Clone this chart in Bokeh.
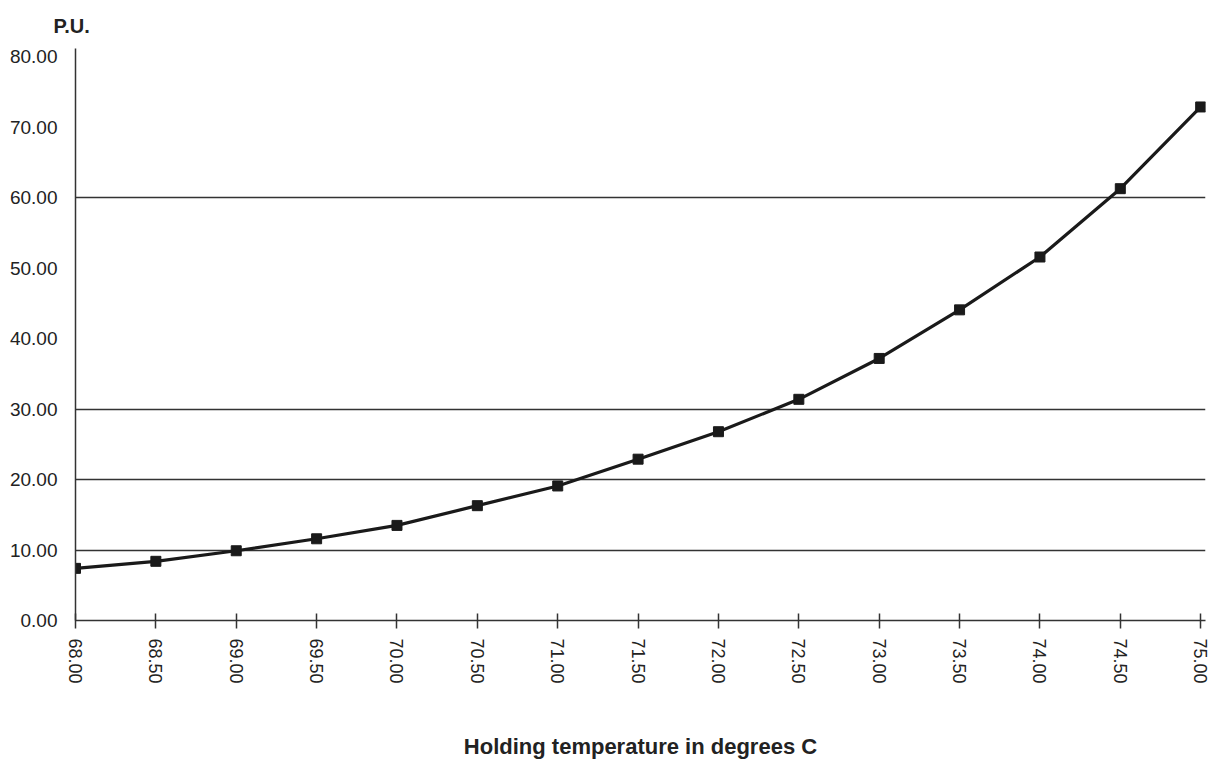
from bokeh.plotting import figure
from bokeh.models import FixedTicker, NumeralTickFormatter, Title
from bokeh.embed import file_html
from bokeh.resources import INLINE

temperature = [68.0, 68.5, 69.0, 69.5, 70.0, 70.5, 71.0, 71.5, 72.0, 72.5, 73.0, 73.5, 74.0, 74.5, 75.0]
pu_values = [7.4, 8.4, 9.9, 11.6, 13.5, 16.3, 19.1, 22.9, 26.8, 31.4, 37.2, 44.1, 51.6, 61.3, 72.9]
y_ticks = [0, 10, 20, 30, 40, 50, 60, 70, 80]
grid_values = [10, 20, 30, 60]

FONT = "Liberation Sans"
TXT = "#222222"
LINE = "#333333"

p = figure(width=1209, height=762, output_backend="svg", toolbar_location=None,
           x_range=(68, 75.03), y_range=(0, 81.2),
           min_border_left=75, min_border_right=4, min_border_top=48, min_border_bottom=142)
p.outline_line_color = None
p.background_fill_color = "white"
p.border_fill_color = "white"

p.title.visible = False
t = Title(text="P.U.", align="left", offset=-22, text_font=FONT, text_font_size="20px",
          text_font_style="bold", text_color=TXT, standoff=20, vertical_align="top")
p.add_layout(t, "above")

# grids
p.xgrid.visible = False
p.ygrid.ticker = FixedTicker(ticks=grid_values)
p.ygrid.grid_line_color = LINE
p.ygrid.grid_line_width = 1.3

# x axis
p.xaxis.ticker = FixedTicker(ticks=temperature)
p.xaxis.formatter = NumeralTickFormatter(format="0.00")
p.xaxis.major_label_orientation = "vertical"
p.xaxis.major_tick_in = 7
p.xaxis.major_tick_out = 8
p.xaxis.minor_tick_in = 0
p.xaxis.minor_tick_out = 0
p.xaxis.major_label_standoff = 10
p.xaxis.major_label_text_font_size = "18px"
p.xaxis.axis_label = "Holding temperature in degrees C"
p.xaxis.axis_label_text_font = FONT
p.xaxis.axis_label_text_font_size = "22px"
p.xaxis.axis_label_text_font_style = "bold"
p.xaxis.axis_label_text_color = TXT
p.xaxis.axis_label_standoff = 47

# y axis
p.yaxis.ticker = FixedTicker(ticks=y_ticks)
p.yaxis.formatter = NumeralTickFormatter(format="0.00")
p.yaxis.major_tick_in = 0
p.yaxis.major_tick_out = 0
p.yaxis.minor_tick_in = 0
p.yaxis.minor_tick_out = 0
p.yaxis.major_label_standoff = 18
p.yaxis.major_label_text_font_size = "19px"

for ax in (p.xaxis, p.yaxis):
    ax.axis_line_color = LINE
    ax.axis_line_width = 1.5
    ax.major_tick_line_color = LINE
    ax.major_tick_line_width = 1.5
    ax.major_label_text_font = FONT
    ax.major_label_text_color = TXT

p.line(temperature, pu_values, line_color="#1a1a1a", line_width=3.2)
p.scatter(temperature, pu_values, marker="square", size=10, fill_color="#1a1a1a", line_color="#1a1a1a")

open("out.html", "w").write(file_html(p, INLINE))
